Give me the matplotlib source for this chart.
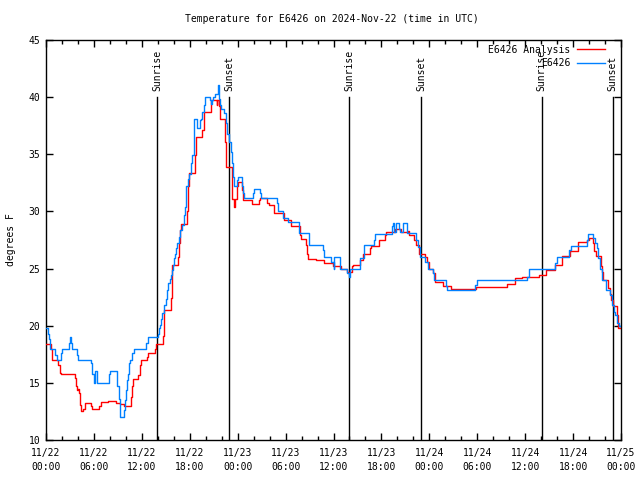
import matplotlib

matplotlib.use("Agg")
import matplotlib.pyplot as plt  # noqa: E402
from matplotlib.ticker import MultipleLocator  # noqa: E402

# hours since 2024-11-22 00:00 UTC, temperature in degrees F
analysis_hours = [
    0.0, 0.63, 0.79, 1.54, 1.71, 1.83, 3.58, 3.71, 3.83, 4.0, 4.08, 4.21, 4.33,
    4.67, 4.83, 5.63, 5.79, 6.67, 6.83, 7.71, 8.75, 9.25, 9.75, 10.67, 10.75,
    10.92, 11.58, 11.71, 11.88, 12.67, 12.75, 13.67, 13.75, 14.67, 14.75, 14.83,
    15.67, 15.75, 15.83, 16.58, 16.71, 16.83, 16.92, 17.67, 17.79, 17.88, 18.63,
    18.79, 19.58, 19.75, 20.67, 21.38, 21.46, 21.67, 21.79, 22.45, 22.6, 22.75,
    23.3, 23.42, 23.54, 23.67, 23.88, 24.04, 24.58, 24.71, 25.75, 26.67, 26.83,
    27.71, 27.92, 28.54, 29.75, 30.71, 31.75, 31.88, 32.58, 32.67, 32.79, 33.75,
    34.75, 35.92, 36.96, 37.67, 38.33, 38.5, 39.38, 39.75, 40.58, 40.75, 41.67,
    42.5, 42.63, 43.75, 44.46, 45.29, 45.5, 46.04, 46.33, 46.75, 47.5, 47.67,
    48.0, 48.42, 48.75, 49.71, 50.71, 53.83, 54.58, 57.71, 58.71, 59.58, 61.67,
    62.58, 63.75, 64.67, 65.67, 66.67, 67.71, 68.0, 68.54, 68.67, 68.83, 69.46,
    69.58, 69.71, 70.38, 70.58, 70.75, 71.0, 71.54, 71.67, 72.0,
]
analysis_temp = [
    18.4, 18.0, 17.0, 16.6, 15.9, 15.8, 15.4, 14.7, 14.4, 14.5, 14.1, 13.1, 12.5,
    12.7, 13.2, 13.0, 12.7, 13.0, 13.3, 13.4, 13.2, 13.15, 13.0, 13.8, 14.7,
    15.3, 15.7, 16.6, 17.0, 17.3, 17.6, 18.0, 18.4, 19.1, 19.9, 21.4,
    22.4, 23.1, 25.3, 26.0, 27.2, 28.4, 28.9, 30.0, 32.2, 33.4, 34.9,
    36.5, 37.1, 38.7, 39.75, 39.3, 39.75, 39.2, 38.1, 36.1, 33.9, 33.9,
    31.1, 31.1, 30.4, 31.1, 32.2, 32.6, 31.9, 31.0, 30.65, 31.0, 31.15,
    30.7, 30.6, 29.9, 29.25, 28.7, 27.9, 27.6, 27.1, 26.3, 25.8, 25.75,
    25.45, 25.2, 25.0, 24.7, 25.2, 25.3, 25.75, 26.3, 26.8, 27.0, 27.5,
    27.9, 28.2, 28.5, 28.2, 28.3, 27.9, 27.5, 27.1, 26.3, 26.0, 25.6,
    25.0, 24.6, 23.8, 23.5, 23.2, 23.35, 23.4, 23.65, 24.15, 24.3, 24.4,
    24.9, 25.3, 26.1, 26.5, 27.35, 27.5, 27.65, 27.2, 26.5, 26.1, 25.2,
    24.7, 24.0, 23.3, 22.8, 22.25, 21.7, 20.9, 19.8, 19.8,
]

station_hours = [
    0.0, 0.25, 0.375, 0.54, 1.17, 1.33, 1.92, 2.04, 2.92, 3.04, 3.17, 3.25,
    3.92, 4.04, 5.63, 5.79, 6.04, 6.17, 6.375, 7.92, 8.04, 8.92, 9.08, 9.21,
    9.29, 9.71, 9.83, 9.96, 10.08, 10.21, 10.42, 10.58, 10.79, 11.0, 12.58,
    12.71, 14.04, 14.17, 14.33, 14.46, 14.58, 14.79, 15.0, 15.17, 15.33, 15.5,
    15.625, 15.75, 15.92, 16.08, 16.21, 16.33, 16.46, 16.67, 16.83, 17.08,
    17.25, 17.375, 17.5, 17.58, 17.79, 17.92, 18.21, 18.33, 18.5, 18.58, 18.92,
    19.25, 19.46, 19.58, 19.75, 19.96, 20.58, 20.71, 20.79, 20.92, 21.21, 21.54,
    21.625, 21.75, 21.96, 22.25, 22.5, 22.67, 22.875, 23.125, 23.25, 23.42,
    23.58, 23.92, 24.08, 24.5, 24.67, 24.75, 25.92, 26.04, 26.83, 26.96, 28.875,
    29.04, 29.67, 30.29, 31.67, 32.92, 34.67, 34.79, 35.625, 36.0, 36.125, 36.79,
    36.875, 37.75, 37.92, 38.08, 39.375, 39.875, 41.04, 41.17, 43.33, 43.42,
    43.54, 43.83, 44.25, 44.375, 44.75, 45.17, 46.33, 46.54, 46.875, 47.42,
    47.875, 48.42, 48.625, 50.08, 50.17, 53.75, 53.92, 60.21, 60.42, 63.75,
    63.96, 65.54, 65.71, 67.79, 67.92, 68.54, 68.71, 68.96, 69.125, 69.33,
    69.67, 70.08, 70.58, 70.83, 71.08, 71.25, 71.54, 71.75, 72.0,
]
station_temp = [
    19.8, 19.3, 18.8, 18.0, 17.4, 17.0, 17.6, 18.0, 18.5, 19.0, 18.5, 18.0,
    17.4, 17.0, 16.7, 15.8, 15.0, 16.0, 15.0, 15.8, 16.0, 14.7, 13.6, 12.5,
    12.0, 12.6, 13.5, 14.4, 15.25, 15.8, 16.7, 17.0, 17.6, 18.0, 18.5,
    19.0, 19.3, 19.8, 20.1, 20.6, 21.1, 21.8, 22.3, 23.1, 23.7, 24.1,
    24.4, 24.9, 25.3, 25.9, 26.3, 26.8, 27.2, 27.8, 28.4, 28.8,
    29.7, 30.4, 31.6, 32.2, 32.8, 33.3, 34.2, 34.9, 35.8, 38.1, 37.3,
    38.0, 38.1, 38.7, 39.3, 40.0, 39.75, 39.4, 39.75, 40.0, 40.3, 41.1,
    39.8, 39.3, 39.0, 38.6, 37.7, 36.8, 36.1, 35.2, 34.2, 33.0,
    32.2, 32.75, 33.05, 32.2, 31.6, 31.15, 31.6, 32.0, 31.6, 31.15, 30.7,
    30.0, 29.4, 29.1, 28.1, 27.1, 26.6, 26.0, 25.6, 25.0, 26.0, 25.6,
    25.0, 24.6, 24.3, 25.0, 25.9, 27.1, 27.5, 28.0, 28.7, 29.0,
    28.2, 29.0, 28.5, 28.2, 29.0, 28.1, 27.5, 26.9, 26.0, 25.6,
    25.0, 24.6, 24.0, 23.5, 23.1, 23.6, 24.0, 24.3, 25.0, 25.5,
    26.0, 26.6, 27.0, 27.5, 28.0, 27.65, 27.2, 26.8, 25.9, 25.0,
    24.0, 23.1, 22.7, 21.8, 21.2, 20.9, 20.2, 20.0, 20.0,
]

sunrise_hours = [13.95, 38.0, 62.05]
sunset_hours = [22.95, 47.0, 70.95]

tick_labels = [
    "11/22\n00:00", "11/22\n06:00", "11/22\n12:00", "11/22\n18:00",
    "11/23\n00:00", "11/23\n06:00", "11/23\n12:00", "11/23\n18:00",
    "11/24\n00:00", "11/24\n06:00", "11/24\n12:00", "11/24\n18:00",
    "11/25\n00:00",
]

FONT = "DejaVu Sans Mono"
FS = 7
plt.rcParams["font.family"] = FONT
plt.rcParams["font.size"] = FS

fig = plt.figure(figsize=(6.4, 4.8), dpi=100)
ax = fig.add_axes([46 / 640, 40 / 480, 575 / 640, 400 / 480])

ax.step(analysis_hours, analysis_temp, where="post", color="#ff0000", lw=1.0,
        label="E6426 Analysis", zorder=3)
ax.step(station_hours, station_temp, where="post", color="#0080ff", lw=1.0,
        label="E6426", zorder=4)

for t in sunrise_hours:
    ax.plot([t, t], [10, 40], color="black", lw=1.0, zorder=2)
    ax.text(t, 40.5, "Sunrise", rotation=90, ha="center", va="bottom", fontsize=FS)
for t in sunset_hours:
    ax.plot([t, t], [10, 40], color="black", lw=1.0, zorder=2)
    ax.text(t, 40.5, "Sunset", rotation=90, ha="center", va="bottom", fontsize=FS)

ax.set_xlim(0, 72)
ax.set_ylim(10, 45)
ax.set_xticks(range(0, 73, 6))
ax.set_xticklabels(tick_labels, linespacing=1.45)
ax.xaxis.set_minor_locator(MultipleLocator(2))
ax.set_yticks(range(10, 46, 5))
ax.tick_params(axis="both", which="both", direction="in", top=True, right=True,
               length=5, width=1.0, labelsize=FS, pad=6)
ax.tick_params(axis="y", pad=4)
ax.tick_params(axis="both", which="minor", length=3)
for s in ax.spines.values():
    s.set_linewidth(1.0)

ax.set_ylabel("degrees F", fontsize=FS, labelpad=9)
fig.text(0.519, 1 - 19 / 480, "Temperature for E6426 on 2024-Nov-22 (time in UTC)",
         ha="center", va="center", fontsize=FS)

ax.legend(loc="upper right", bbox_to_anchor=(0.981, 1.0), frameon=False,
          markerfirst=False, handlelength=2.9, handletextpad=0.7,
          labelspacing=0.35, borderpad=0, fontsize=FS)

fig.savefig("out.png", dpi=100)
